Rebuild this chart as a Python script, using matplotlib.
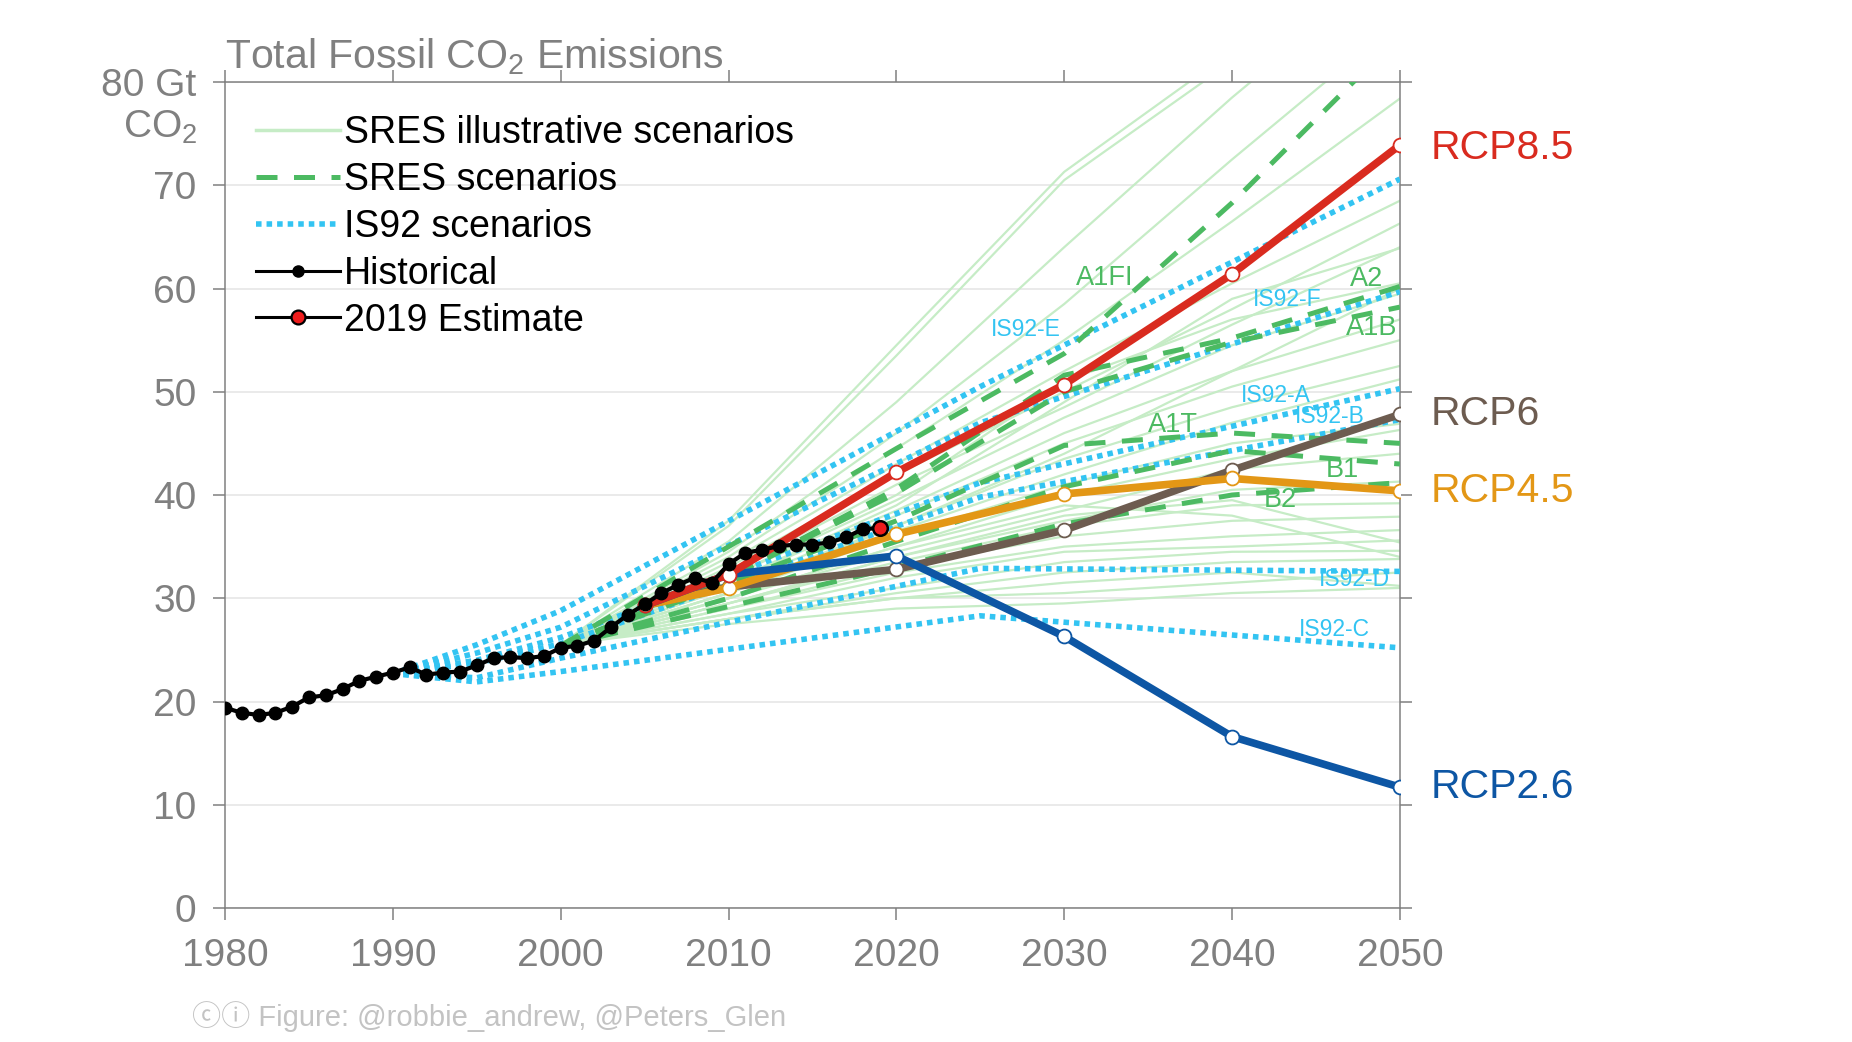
import matplotlib
matplotlib.use("Agg")
import matplotlib.pyplot as plt
from matplotlib.lines import Line2D

plt.rcParams['font.family'] = ['Liberation Sans', 'DejaVu Sans']
plt.rcParams['mathtext.fontset'] = 'custom'
plt.rcParams['mathtext.rm'] = 'Liberation Sans'
plt.rcParams['mathtext.it'] = 'Liberation Sans'

# ---------------- data ----------------
hist_years = list(range(1980, 2019))
hist_values = [19.4, 18.9, 18.7, 18.9, 19.5, 20.4, 20.6, 21.2, 22.0, 22.4,
               22.8, 23.3, 22.6, 22.8, 22.9, 23.5, 24.2, 24.3, 24.2, 24.4,
               25.2, 25.4, 25.9, 27.2, 28.4, 29.4, 30.5, 31.3, 32.0, 31.5,
               33.3, 34.4, 34.7, 35.05, 35.2, 35.2, 35.4, 35.9, 36.7]
est_year = [2018, 2019]
est_values = [36.7, 36.8]

rcp_years = [2005, 2010, 2020, 2030, 2040, 2050]
rcp85 = [29.3, 32.3, 42.2, 50.7, 61.4, 73.9]
rcp6 = [29.3, 31.1, 32.8, 36.6, 42.4, 47.8]
rcp45 = [29.3, 31.0, 36.2, 40.1, 41.6, 40.4]
rcp26 = [29.3, 32.3, 34.1, 26.3, 16.6, 11.7]

is92_years = [1990, 1995, 2000, 2025, 2050]
is92_e = [22.7, 25.5, 28.8, 50.5, 70.6]
is92_f = [22.7, 24.7, 27.2, 47.0, 59.7]
is92_a = [22.7, 24.0, 26.2, 41.2, 50.3]
is92_b = [22.7, 23.7, 25.6, 39.8, 47.3]
is92_d = [22.7, 22.3, 24.2, 32.9, 32.6]
is92_c = [22.7, 21.9, 22.9, 28.3, 25.2]

sres_years = [2000, 2010, 2020, 2030, 2040, 2050]
sres_a1fi = [25.4, 35.0, 44.5, 53.7, 68.3, 84.5]
sres_a2 = [25.4, 32.0, 40.6, 51.6, 55.2, 60.2]
sres_a1b = [25.4, 32.0, 40.2, 50.0, 54.8, 58.2]
sres_a1t = [25.4, 31.5, 37.5, 44.8, 46.0, 45.0]
sres_b1 = [25.4, 30.0, 35.5, 40.8, 44.3, 43.0]
sres_b2 = [25.4, 29.2, 33.0, 37.2, 40.0, 41.2]

illus_years = [2000, 2010, 2020, 2030, 2040, 2050]
illustrative = [
    [25.5, 37.5, 54.5, 71.3, 83.0, 95.0],
    [25.5, 37.0, 53.5, 70.5, 82.0, 94.0],
    [25.5, 35.5, 49.0, 64.0, 78.5, 92.0],
    [25.5, 34.5, 46.0, 58.5, 72.5, 86.0],
    [25.5, 34.0, 44.5, 55.0, 66.5, 78.4],
    [25.5, 33.5, 43.0, 52.0, 60.5, 68.5],
    [25.5, 33.0, 42.0, 50.0, 58.0, 66.3],
    [25.5, 32.5, 41.0, 48.5, 56.5, 64.0],
    [25.5, 32.0, 40.0, 51.0, 57.0, 60.5],
    [25.5, 32.0, 39.5, 47.5, 54.5, 59.5],
    [25.5, 31.5, 38.5, 46.0, 52.0, 57.0],
    [25.5, 31.0, 38.0, 45.0, 50.5, 55.0],
    [25.5, 31.0, 37.0, 43.5, 48.5, 52.5],
    [25.5, 30.5, 36.5, 42.0, 47.0, 51.2],
    [25.5, 30.5, 36.0, 41.0, 45.0, 46.9],
    [25.5, 30.0, 35.0, 40.0, 43.5, 46.3],
    [25.5, 30.0, 34.5, 38.5, 42.5, 44.0],
    [25.5, 29.5, 34.0, 37.5, 40.5, 41.3],
    [25.5, 29.5, 33.5, 37.0, 39.0, 39.2],
    [25.5, 29.0, 33.0, 36.0, 37.5, 37.9],
    [25.5, 29.0, 32.5, 35.0, 36.0, 36.6],
    [25.5, 28.5, 32.0, 34.5, 35.0, 35.6],
    [25.5, 28.5, 31.0, 33.5, 34.5, 34.6],
    [25.5, 28.0, 30.5, 32.5, 33.5, 33.8],
    [25.5, 28.0, 30.0, 31.5, 32.5, 31.2],
    [25.5, 29.5, 34.0, 38.0, 39.5, 35.4],
    [25.5, 30.0, 35.0, 39.0, 38.0, 34.0],
    [25.5, 28.0, 30.0, 30.5, 31.5, 32.5],
    [25.5, 27.5, 29.0, 29.5, 30.5, 31.0],
    [25.5, 31.5, 39.0, 49.0, 59.0, 63.9],
    [25.5, 30.5, 37.0, 44.0, 52.0, 60.0],
]

sres_labels = ["A1FI", "A2", "A1B", "A1T", "B1", "B2"]
sres_label_x = [2032.4, 2048.0, 2048.3, 2036.5, 2046.6, 2042.9]
sres_label_y = [61.0, 60.9, 56.2, 46.8, 42.4, 39.5]
is92_labels = ["IS92-E", "IS92-F", "IS92-A", "IS92-B", "IS92-D", "IS92-C"]
is92_label_x = [2027.7, 2043.3, 2042.6, 2045.8, 2047.3, 2046.1]
is92_label_y = [56.0, 58.9, 49.6, 47.6, 31.8, 27.0]

rcp_names = ["RCP8.5", "RCP6", "RCP4.5", "RCP2.6"]
x_ticks = [1980, 1990, 2000, 2010, 2020, 2030, 2040, 2050]
y_ticks = [0, 10, 20, 30, 40, 50, 60, 70, 80]
y_tick_labels = ["0", "10", "20", "30", "40", "50", "60", "70", "80 Gt"]

# ---------------- style ----------------
GRAY = '#808080'
LIGHT_GREEN = '#c6ecc6'
SRES_GREEN = '#4cba62'
IS92_CYAN = '#33c4f2'
C85 = '#d92b1f'
C6 = '#6d5c50'
C45 = '#e39716'
C26 = '#0d56a4'

fig = plt.figure(figsize=(18.52, 10.42), dpi=100)
ax = fig.add_axes([0.1215, 0.1286, 0.6344, 0.7927])

for vals in illustrative:
    ax.plot(illus_years, vals, color=LIGHT_GREEN, lw=1.6, zorder=2)

dotted = (0, (1, 0.9))
for vals in [is92_e, is92_f, is92_a, is92_b, is92_d, is92_c]:
    ax.plot(is92_years, vals, color=IS92_CYAN, lw=4.0, linestyle=dotted,
            dash_capstyle='butt', zorder=3)

dashed = (0, (4.2, 3.3))
for vals in [sres_a1fi, sres_a2, sres_a1b, sres_a1t, sres_b1, sres_b2]:
    ax.plot(sres_years, vals, color=SRES_GREEN, lw=3.6, linestyle=dashed,
            dash_capstyle='butt', zorder=4)

for vals, col in [(rcp6, C6), (rcp45, C45), (rcp26, C26), (rcp85, C85)]:
    ax.plot(rcp_years, vals, color=col, lw=5.5, zorder=5,
            marker='o', markersize=10, markerfacecolor='white',
            markeredgecolor=col, markeredgewidth=1.3)

ax.plot(hist_years, hist_values, color='black', lw=3.0, marker='o',
        markersize=9, markerfacecolor='black', markeredgecolor='black', zorder=7)
ax.plot(est_year, est_values, color='black', lw=3.0, zorder=7)
ax.plot(est_year[1:], est_values[1:], linestyle='none', marker='o', markersize=10.5,
        markerfacecolor='#ee1c1c', markeredgecolor='black', markeredgewidth=1.8, zorder=8)

# scenario labels
for t, x, y in zip(sres_labels, sres_label_x, sres_label_y):
    ax.text(x, y, t, color=SRES_GREEN, fontsize=19.5, ha='center', va='center', zorder=9)
for t, x, y in zip(is92_labels, is92_label_x, is92_label_y):
    ax.text(x, y, t, color=IS92_CYAN, fontsize=16.5, ha='center', va='center', zorder=9)

for name, vals, col in zip(rcp_names, [rcp85, rcp6, rcp45, rcp26], [C85, C6, C45, C26]):
    dy = -2.5 if name == "RCP8.5" else 0
    ax.annotate(name, xy=(rcp_years[-1], vals[-1]), xytext=(22, dy),
                textcoords='offset points', color=col, fontsize=29.5,
                ha='left', va='center', annotation_clip=False)

# axes styling
ax.set_xlim(1980, 2050)
ax.set_ylim(0, 80)
ax.set_xticks(x_ticks)
ax.set_xticklabels([str(v) for v in x_ticks])
ax.set_yticks(y_ticks)
ax.set_yticklabels(y_tick_labels)
ax.yaxis.grid(True, color='#e6e6e6', lw=1.2)
ax.set_axisbelow(True)
for sp in ax.spines.values():
    sp.set_color(GRAY)
    sp.set_linewidth(1.1)
ax.tick_params(which='both', direction='out', length=8.5, width=1.1, color=GRAY,
               top=True, right=True, labeltop=False, labelright=False,
               labelsize=28, labelcolor=GRAY)
ax.tick_params(axis='x', pad=13)
ax.tick_params(axis='y', pad=12)

ax.annotate("CO$_2$", xy=(0, 80), xycoords=('axes fraction', 'data'),
            xytext=(-20.2, -40.0), textcoords='offset points',
            ha='right', va='baseline', fontsize=28, color=GRAY, annotation_clip=False)

ax.text(0.0, 1.017, "Total Fossil CO$_2$ Emissions", transform=ax.transAxes,
        ha='left', va='baseline', fontsize=29.5, color=GRAY)

handles = [
    Line2D([], [], color=LIGHT_GREEN, lw=2.5),
    Line2D([], [], color=SRES_GREEN, lw=3.6, linestyle=dashed, dash_capstyle='butt'),
    Line2D([], [], color=IS92_CYAN, lw=4.0, linestyle=dotted, dash_capstyle='butt'),
    Line2D([], [], color='black', lw=2.2, marker='o', markersize=8,
           markerfacecolor='black', markeredgecolor='black'),
    Line2D([], [], color='black', lw=2.2, marker='o', markersize=10,
           markerfacecolor='#ee1c1c', markeredgecolor='black', markeredgewidth=1.6),
]
labels = ["SRES illustrative scenarios", "SRES scenarios", "IS92 scenarios",
          "Historical", "2019 Estimate"]
leg = ax.legend(handles, labels, loc='upper left', bbox_to_anchor=(0.0264, 0.960),
                frameon=False, fontsize=27, borderpad=0, borderaxespad=0,
                handlelength=2.23, handletextpad=0.11, labelspacing=0.29,
                numpoints=1)
leg.set_zorder(10)

fig.text(0.1037, 0.0154, "ⓒⓘ Figure: @robbie_andrew, @Peters_Glen",
         fontsize=21, color='#c3c3c3', ha='left', va='baseline',
         family=['Liberation Sans', 'Noto Sans CJK JP', 'DejaVu Sans'])

fig.savefig("out.png", dpi=100, facecolor='white')
